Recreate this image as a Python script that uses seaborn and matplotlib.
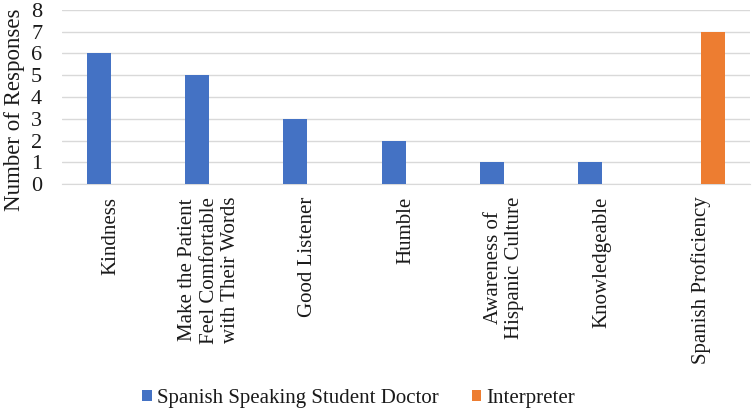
import pandas as pd
import seaborn as sns
import matplotlib.pyplot as plt

# data
categories = ["Kindness",
              "Make the Patient\nFeel Comfortable\nwith Their Words",
              "Good Listener",
              "Humble",
              "Awareness of\nHispanic Culture",
              "Knowledgeable",
              "Spanish Proficiency"]
doctor = [6, 5, 3, 2, 1, 1, 0]
interpreter = [0, 0, 0, 0, 0, 0, 7]
series = ["Spanish Speaking Student Doctor", "Interpreter"]

df = pd.DataFrame({
    "category": categories * 2,
    "responses": doctor + interpreter,
    "group": [series[0]] * len(categories) + [series[1]] * len(categories),
})

sns.set_style("white")
plt.rcParams["font.family"] = ["Liberation Serif", "DejaVu Serif"]

fig = plt.figure(figsize=(7.52, 4.13), dpi=100)
ax = fig.add_axes([0.082, 0.554, 0.915, 0.422])

sns.barplot(data=df, x="category", y="responses", hue="group",
            palette=["#4472C4", "#ED7D31"], saturation=1, width=0.49,
            linewidth=0, ax=ax, zorder=3)

txt = "#1a1a1a"
ax.set_ylim(0, 8)
ax.set_yticks(range(0, 9))
ax.yaxis.grid(True, color="#D9D9D9", linewidth=1, zorder=0)
for s in ["top", "right", "left"]:
    ax.spines[s].set_visible(False)
ax.spines["bottom"].set_color("#D9D9D9")
ax.tick_params(axis="y", labelsize=16, length=0, pad=14, colors=txt)
ax.tick_params(axis="x", labelsize=15, length=0, pad=9, colors=txt)
plt.setp(ax.get_xticklabels(), rotation=90, ha="center", va="top",
         multialignment="center")
ax.set_xlabel("")
ax.set_ylabel("Number of Responses", fontsize=16.5, color=txt)
ax.yaxis.set_label_coords(-0.053, 0.43)

handles, labels = ax.get_legend_handles_labels()
ax.get_legend().remove()
fig.legend(handles, labels, loc="center", bbox_to_anchor=(0.477, 0.036),
           ncol=2, frameon=False, fontsize=15, handlelength=0.45,
           handleheight=0.45, handletextpad=0.25, columnspacing=1.6,
           labelcolor=txt)

plt.savefig("out.png", dpi=100)
plt.close()
